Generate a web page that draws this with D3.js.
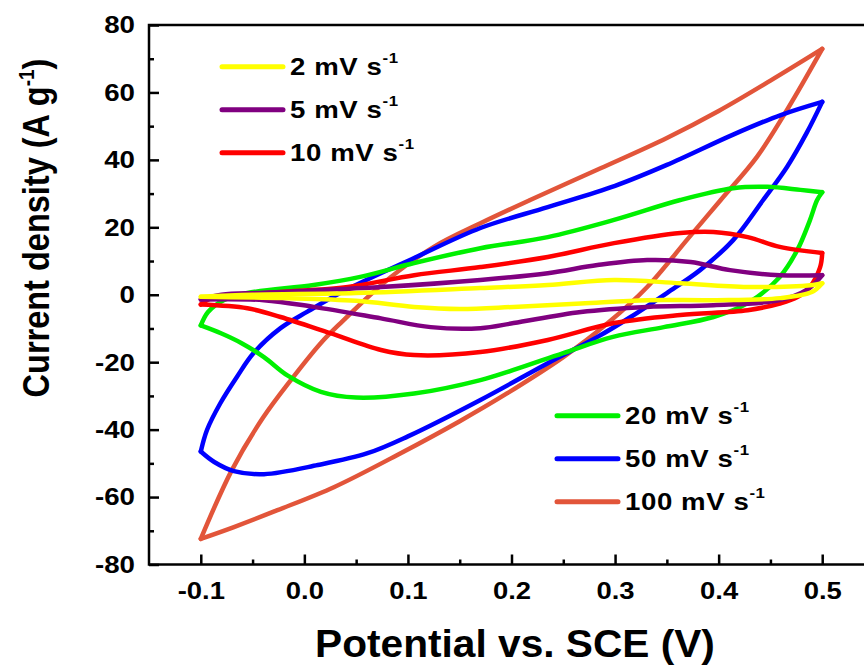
<!DOCTYPE html>
<html>
<head>
<meta charset="utf-8">
<script src="https://cdn.jsdelivr.net/npm/d3@7"></script>
<style>
  body { margin: 0; background: #fff; }
  text { font-family: "Liberation Sans", Arial, sans-serif; font-weight: bold; fill: #000; }
</style>
</head>
<body>
<div id="chart"></div>
<script>
/* Data: [potential (V), current density (A/g)], forward (anodic) and reverse (cathodic) sweeps */
const fwd2 = [[-0.1,-0.6],[-0.05,0.0],[0.05,0.5],[0.17,2.0],[0.235,2.9],[0.299,4.4],[0.363,3.4],[0.428,2.3],[0.491,2.9],[0.5,3.4]];
const rev2 = [[0.5,3.4],[0.49,0.8],[0.459,-1.0],[0.395,-1.6],[0.331,-1.6],[0.267,-2.6],[0.202,-3.6],[0.15,-4.2],[0.106,-3.6],[0.05,-1.8],[-0.02,-1.0],[-0.1,-0.6]];

const fwd5 = [[-0.1,-1.4],[-0.08,0.0],[-0.039,0.6],[0.074,2.3],[0.17,4.4],[0.235,6.4],[0.283,8.8],[0.331,10.3],[0.373,9.7],[0.411,7.3],[0.459,5.8],[0.5,5.8]];
const rev5 = [[0.5,5.8],[0.485,1.4],[0.459,-1.6],[0.395,-3.1],[0.331,-3.6],[0.267,-5.1],[0.202,-8.4],[0.17,-9.9],[0.122,-9.6],[0.074,-7.0],[0.009,-3.6],[-0.039,-1.6],[-0.1,-1.4]];

const fwd10 = [[-0.1,-2.9],[-0.09,-1.0],[-0.07,-0.2],[-0.023,0.8],[0.042,2.3],[0.106,5.8],[0.17,8.2],[0.235,11.2],[0.299,15.3],[0.363,18.3],[0.395,18.6],[0.428,17.1],[0.459,14.2],[0.5,12.4]];
const rev10 = [[0.5,12.4],[0.498,8.2],[0.488,2.3],[0.476,-0.7],[0.459,-2.6],[0.428,-4.6],[0.363,-6.0],[0.299,-8.4],[0.235,-13.4],[0.17,-17.0],[0.106,-17.9],[0.074,-16.4],[0.025,-11.4],[-0.023,-6.6],[-0.055,-4.0],[-0.1,-2.9]];

const fwd20 = [[-0.1,-9.1],[-0.093,-5.1],[-0.078,-1.6],[-0.055,0.5],[0.009,2.9],[0.054,5.3],[0.106,9.4],[0.17,13.8],[0.235,17.1],[0.299,22.2],[0.363,28.1],[0.414,31.6],[0.447,32.0],[0.479,31.1],[0.5,30.4]];
const rev20 = [[0.5,30.4],[0.495,28.0],[0.488,22.0],[0.476,13.3],[0.459,5.3],[0.428,-2.5],[0.395,-6.6],[0.347,-9.6],[0.298,-12.5],[0.25,-17.3],[0.202,-22.3],[0.17,-25.3],[0.106,-29.3],[0.05,-30.5],[0.016,-28.8],[-0.016,-24.0],[-0.039,-18.5],[-0.061,-14.3],[-0.08,-11.5],[-0.1,-9.1]];

const fwd50 = [[-0.1,-46.5],[-0.094,-40.1],[-0.081,-32.1],[-0.065,-24.3],[-0.049,-17.3],[-0.023,-9.9],[0.003,-5.0],[0.04,1.4],[0.106,10.9],[0.17,19.8],[0.235,26.0],[0.3,32.3],[0.35,38.5],[0.414,47.5],[0.46,53.3],[0.5,57.2]];
const rev50 = [[0.5,57.2],[0.485,48.0],[0.466,37.9],[0.443,28.1],[0.414,16.2],[0.382,7.3],[0.35,0.5],[0.315,-6.6],[0.283,-12.5],[0.235,-20.3],[0.17,-31.2],[0.1,-42.0],[0.061,-47.0],[0.013,-50.5],[-0.039,-53.2],[-0.068,-52.3],[-0.087,-49.6],[-0.1,-46.5]];

const fwd100 = [[-0.1,-72.4],[-0.07,-52.0],[-0.04,-36.5],[-0.013,-25.3],[0.016,-14.3],[0.035,-8.4],[0.08,4.4],[0.125,14.2],[0.17,21.2],[0.218,28.1],[0.286,37.5],[0.35,46.5],[0.4,54.5],[0.45,63.5],[0.5,72.9]];
const rev100 = [[0.5,72.9],[0.466,54.8],[0.437,40.9],[0.402,28.1],[0.37,16.5],[0.331,2.3],[0.293,-8.4],[0.25,-18.5],[0.196,-29.2],[0.15,-37.5],[0.093,-47.0],[0.029,-57.0],[-0.026,-63.9],[-0.068,-68.9],[-0.1,-72.4]];

const scanLabels = ["2 mV s", "5 mV s", "10 mV s", "20 mV s", "50 mV s", "100 mV s"];
const scanColors = ["#ffff00", "#800080", "#ff0000", "#00f000", "#0000ff", "#e2553a"];
const sweeps = [[fwd2, rev2], [fwd5, rev5], [fwd10, rev10], [fwd20, rev20], [fwd50, rev50], [fwd100, rev100]];

const xMajor = [-0.1, 0.0, 0.1, 0.2, 0.3, 0.4, 0.5];
const xMinor = [-0.05, 0.05, 0.15, 0.25, 0.35, 0.45];
const yMajor = [-80, -60, -40, -20, 0, 20, 40, 60, 80];
const yMinor = [-70, -50, -30, -10, 10, 30, 50, 70];

/* Dimensions */
const width = 864, height = 669;
const plot = { left: 149, right: 874, top: 25, bottom: 564.5 };

const svg = d3.select("#chart").append("svg")
  .attr("width", width)
  .attr("height", height);

/* Scales */
const x = d3.scaleLinear().domain([-0.15, 0.55]).range([plot.left, plot.right]);
const y = d3.scaleLinear().domain([-80, 80]).range([plot.bottom, plot.top]);

const line = d3.line()
  .x(d => x(d[0]))
  .y(d => y(d[1]))
  .curve(d3.curveCatmullRom.alpha(0.5));

// CV loops, biggest first so small loops sit on top
const order = [5, 4, 3, 2, 1, 0];
order.forEach(k => {
  sweeps[k].forEach(branch => {
    svg.append("path")
      .attr("d", line(branch))
      .attr("fill", "none")
      .attr("stroke", scanColors[k])
      .attr("stroke-width", 4.5)
      .attr("stroke-linecap", "round")
      .attr("stroke-linejoin", "round");
  });
});

/* Axes */
// plain hyphen for negatives, like the original
const hyphen = f => d => f(d).replace("\u2212", "-");

const xAxis = svg.append("g")
  .attr("transform", `translate(0,${plot.bottom})`)
  .call(d3.axisBottom(x).tickValues(xMajor).tickSizeInner(-10).tickSizeOuter(0).tickPadding(17)
    .tickFormat(hyphen(d3.format(".1f"))));
xAxis.selectAll("text")
  .attr("font-size", 24.5)
  .attr("transform", "scale(1.12,1)");

svg.append("g")
  .attr("transform", `translate(0,${plot.bottom})`)
  .call(d3.axisBottom(x).tickValues(xMinor).tickSizeInner(-5).tickSizeOuter(0).tickFormat(""));

const yAxis = svg.append("g")
  .attr("transform", `translate(${plot.left},0)`)
  .call(d3.axisLeft(y).tickValues(yMajor).tickSizeInner(-10).tickSizeOuter(0).tickPadding(12.4)
    .tickFormat(hyphen(d3.format("d"))));
yAxis.selectAll("text")
  .attr("font-size", 24.5)
  .attr("transform", "scale(1.13,1)");

svg.append("g")
  .attr("transform", `translate(${plot.left},0)`)
  .call(d3.axisLeft(y).tickValues(yMinor).tickSizeInner(-5).tickSizeOuter(0).tickFormat(""));

svg.selectAll(".domain").remove();
svg.selectAll(".tick line").attr("stroke", "#000").attr("stroke-width", 2.5);

// frame (right side falls outside the picture)
svg.append("rect")
  .attr("x", plot.left)
  .attr("y", plot.top)
  .attr("width", plot.right - plot.left)
  .attr("height", plot.bottom - plot.top)
  .attr("fill", "none")
  .attr("stroke", "#000")
  .attr("stroke-width", 2.5);

/* Legends */
function legend(items, x0, y0, dy) {
  items.forEach((k, i) => {
    const ly = y0 + i * dy;
    svg.append("line")
      .attr("x1", x0).attr("x2", x0 + 61)
      .attr("y1", ly).attr("y2", ly)
      .attr("stroke", scanColors[k])
      .attr("stroke-width", 5)
      .attr("stroke-linecap", "round");
    const t = svg.append("text")
      .attr("transform", `translate(${x0 + 68},${ly + 8.3}) scale(1.2,1)`)
      .attr("font-size", 23)
      .attr("letter-spacing", 0.5);
    t.append("tspan").text(scanLabels[k]);
    t.append("tspan").attr("font-size", 14).attr("dy", -12).text("-1");
  });
}
legend([0, 1, 2], 222, 66.7, 43);
legend([3, 4, 5], 557, 415.7, 43);

/* Axis titles */
svg.append("text")
  .attr("transform", "translate(515,657) scale(1.07,1)")
  .attr("text-anchor", "middle")
  .attr("font-size", 38)
  .text("Potential vs. SCE (V)");

const yt = svg.append("text")
  .attr("transform", "translate(49,228) scale(1.15,1) rotate(-90)")
  .attr("text-anchor", "middle")
  .attr("font-size", 32.5);
yt.append("tspan").text("Current density (A g");
yt.append("tspan").attr("font-size", 19).attr("dy", -13).text("-1");
yt.append("tspan").attr("dy", 13).text(")");
</script>
</body>
</html>
